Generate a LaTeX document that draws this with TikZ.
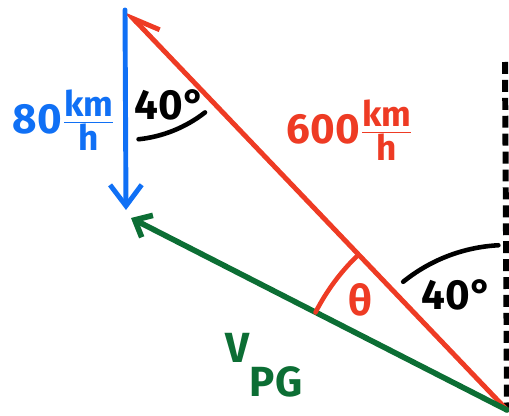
\documentclass[tikz,border=0pt]{standalone}
\usepackage{fontspec}
\setmainfont{Fira Sans}
\usetikzlibrary{arrows.meta}

\definecolor{penred}{RGB}{238,59,36}
\definecolor{penblue}{RGB}{16,112,245}
\definecolor{pengreen}{RGB}{12,110,52}

\newcommand{\kmh}{$\frac{\mbox{\fontsize{20}{21}\selectfont\bfseries km}}{\mbox{\fontsize{20}{21}\selectfont\bfseries h}}$}

\begin{document}
\begin{tikzpicture}[
    x=0.02cm, y=0.02cm,
    vec/.style={line width=2.8pt, line cap=round},
    anglearc/.style={line width=2.6pt, line cap=round},
    hand/.style={font=\fontsize{24}{26}\selectfont\bfseries, inner sep=0pt}
]
\useasboundingbox (0,0) rectangle (509,-415);

% Corners
\coordinate (top) at (125,-10);
\coordinate (bot) at (507,-410);
\coordinate (vtip) at (126,-210);
\coordinate (gtip) at (131,-218);
\coordinate (vert) at (505,-62);

% Vertical reference
\draw[line width=3.4pt, dash pattern=on 6.8pt off 3.4pt] (vert) -- (bot);

% Vectors
\draw[vec, penred, {Straight Barb[right, length=15pt, width=13pt]}-] (top) -- (bot);
\draw[vec, pengreen, line width=3.2pt, -{Straight Barb[length=8pt, width=14pt]}] (bot) -- (gtip);
\draw[vec, penblue, -{Straight Barb[length=12pt, width=18pt]}] (top) -- (vtip);

% Angles
\draw[anglearc] ([shift={(-84:2.6cm)}]top) arc[start angle=-84, end angle=-52, radius=2.6cm];
\draw[anglearc, penred] ([shift={(134:4.3cm)}]bot) arc[start angle=134, end angle=153, radius=4.3cm];
\draw[anglearc] ([shift={(93:3.3cm)}]bot) arc[start angle=93, end angle=129, radius=3.3cm];

% Labels
\node[hand, penblue] (speedp) at (64,-120) {80\kmh};
\node[hand] (angtop) at (170,-105) {40°};
\node[hand, penred] (speedr) at (350,-130) {600\kmh};
\node[hand, penred] (theta) at (360,-300) {θ};
\node[hand] (angbot) at (457,-295) {40°};
\node[hand, pengreen] (vpg) at (264,-365) {V\raisebox{-0.8em}{PG}};

\end{tikzpicture}
\end{document}
